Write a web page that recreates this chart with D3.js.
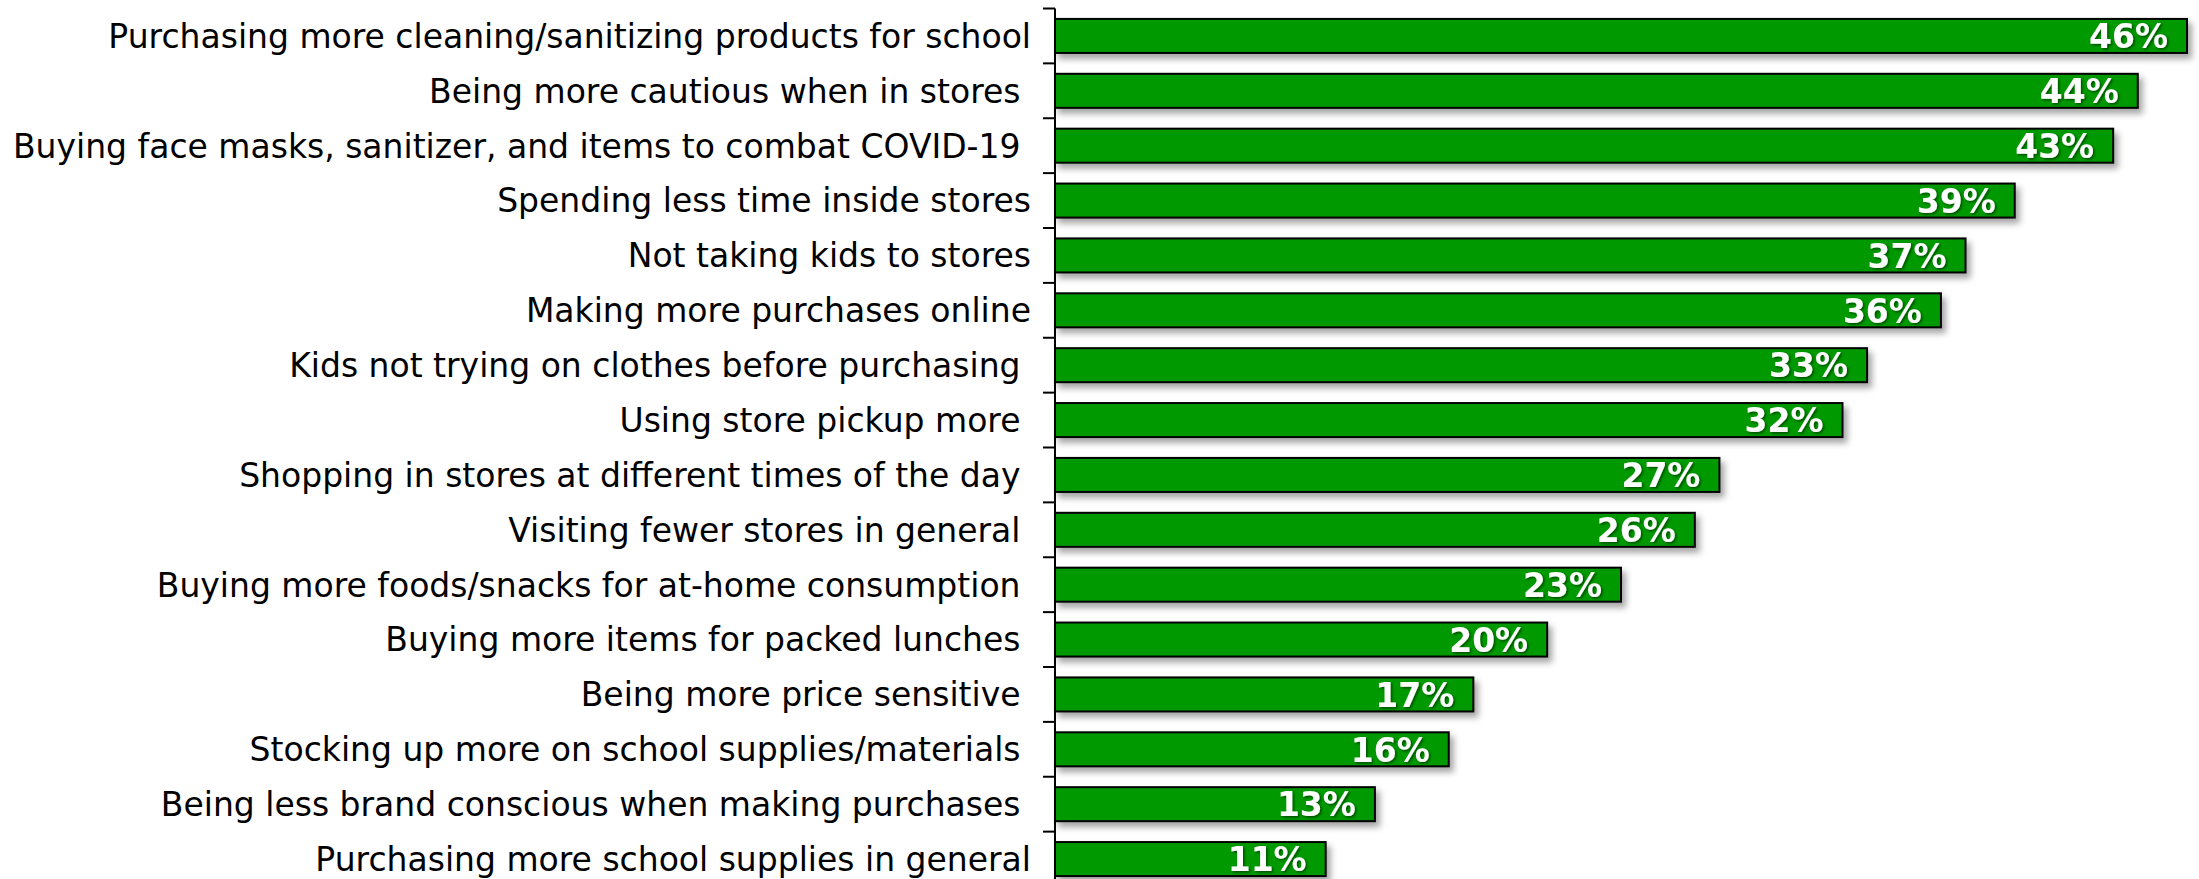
<!DOCTYPE html>
<html>
<head>
<meta charset="utf-8">
<script src="https://cdn.jsdelivr.net/npm/d3@7"></script>
<style>
  body { margin: 0; background: #fff; }
  svg text { white-space: pre; }
</style>
</head>
<body>
<div id="chart"></div>
<script>
// categories top to bottom (trailing spaces kept as in the source)
const categories = [
  "Purchasing more cleaning/sanitizing products for school",
  "Being more cautious when in stores ",
  "Buying face masks, sanitizer, and items to combat COVID-19 ",
  "Spending less time inside stores",
  "Not taking kids to stores",
  "Making more purchases online",
  "Kids not trying on clothes before purchasing ",
  "Using store pickup more ",
  "Shopping in stores at different times of the day ",
  "Visiting fewer stores in general ",
  "Buying more foods/snacks for at-home consumption ",
  "Buying more items for packed lunches ",
  "Being more price sensitive ",
  "Stocking up more on school supplies/materials ",
  "Being less brand conscious when making purchases ",
  "Purchasing more school supplies in general"
];
const values = [46, 44, 43, 39, 37, 36, 33, 32, 27, 26, 23, 20, 17, 16, 13, 11];

const W = 2199, H = 879;
const axisX = 1055;

const svg = d3.select('#chart').append('svg')
  .attr('width', W)
  .attr('height', H);

const defs = svg.append('defs');
const shadow = defs.append('filter')
  .attr('id', 'barShadow')
  .attr('x', '-5%').attr('y', '-30%')
  .attr('width', '115%').attr('height', '180%');
shadow.append('feDropShadow')
  .attr('dx', 4).attr('dy', 5)
  .attr('stdDeviation', 3)
  .attr('flood-color', '#000')
  .attr('flood-opacity', 0.35);

const txtShadow = defs.append('filter').attr('id', 'txtShadow');
txtShadow.append('feDropShadow')
  .attr('dx', 1.5).attr('dy', 1.5)
  .attr('stdDeviation', 0.8)
  .attr('flood-color', '#000')
  .attr('flood-opacity', 0.5);

const x = d3.scaleLinear()
  .domain([0, 46])
  .range([axisX, 2187]);

const y = d3.scaleBand()
  .domain(categories)
  .range([8.5, 886.5])
  .paddingInner(0.38)
  .paddingOuter(0.19);

const data = categories.map((c, i) => ({ cat: c, val: values[i] }));

// bars
const bars = svg.selectAll('.bar')
  .data(data)
  .enter()
  .append('g')
  .attr('class', 'bar');

bars.append('rect')
  .attr('x', x(0))
  .attr('y', d => y(d.cat))
  .attr('width', d => x(d.val) - x(0))
  .attr('height', y.bandwidth())
  .attr('fill', '#009900')
  .attr('stroke', '#000')
  .attr('stroke-width', 2)
  .attr('filter', 'url(#barShadow)');

bars.append('text')
  .attr('x', d => x(d.val) - 19)
  .attr('y', d => y(d.cat) + y.bandwidth() / 2)
  .attr('dy', '0.37em')
  .attr('text-anchor', 'end')
  .style('font-family', '"DejaVu Sans", sans-serif')
  .style('font-weight', 'bold')
  .style('font-size', '33px')
  .attr('fill', '#fff')
  .attr('filter', 'url(#txtShadow)')
  .text(d => d.val + '%');

// axis line with ticks at band boundaries
const step = y.step();
const top0 = y(categories[0]) - y.paddingInner() * step / 2;
const axisG = svg.append('g').attr('class', 'axis');
axisG.append('line')
  .attr('x1', axisX).attr('x2', axisX)
  .attr('y1', top0).attr('y2', H)
  .attr('stroke', '#000')
  .attr('stroke-width', 2);
axisG.selectAll('.tick')
  .data(d3.range(categories.length + 1))
  .enter()
  .append('line')
  .attr('x1', axisX - 12).attr('x2', axisX)
  .attr('y1', i => top0 + i * step)
  .attr('y2', i => top0 + i * step)
  .attr('stroke', '#000')
  .attr('stroke-width', 2);

// category labels
svg.append('g').selectAll('text')
  .data(categories)
  .enter()
  .append('text')
  .attr('x', axisX - 24)
  .attr('y', d => y(d) + y.bandwidth() / 2)
  .attr('dy', '0.36em')
  .attr('text-anchor', 'end')
  .style('font-family', '"DejaVu Sans", sans-serif')
  .style('font-size', '33px')
  .attr('fill', '#000')
  .text(d => d);
</script>
</body>
</html>
